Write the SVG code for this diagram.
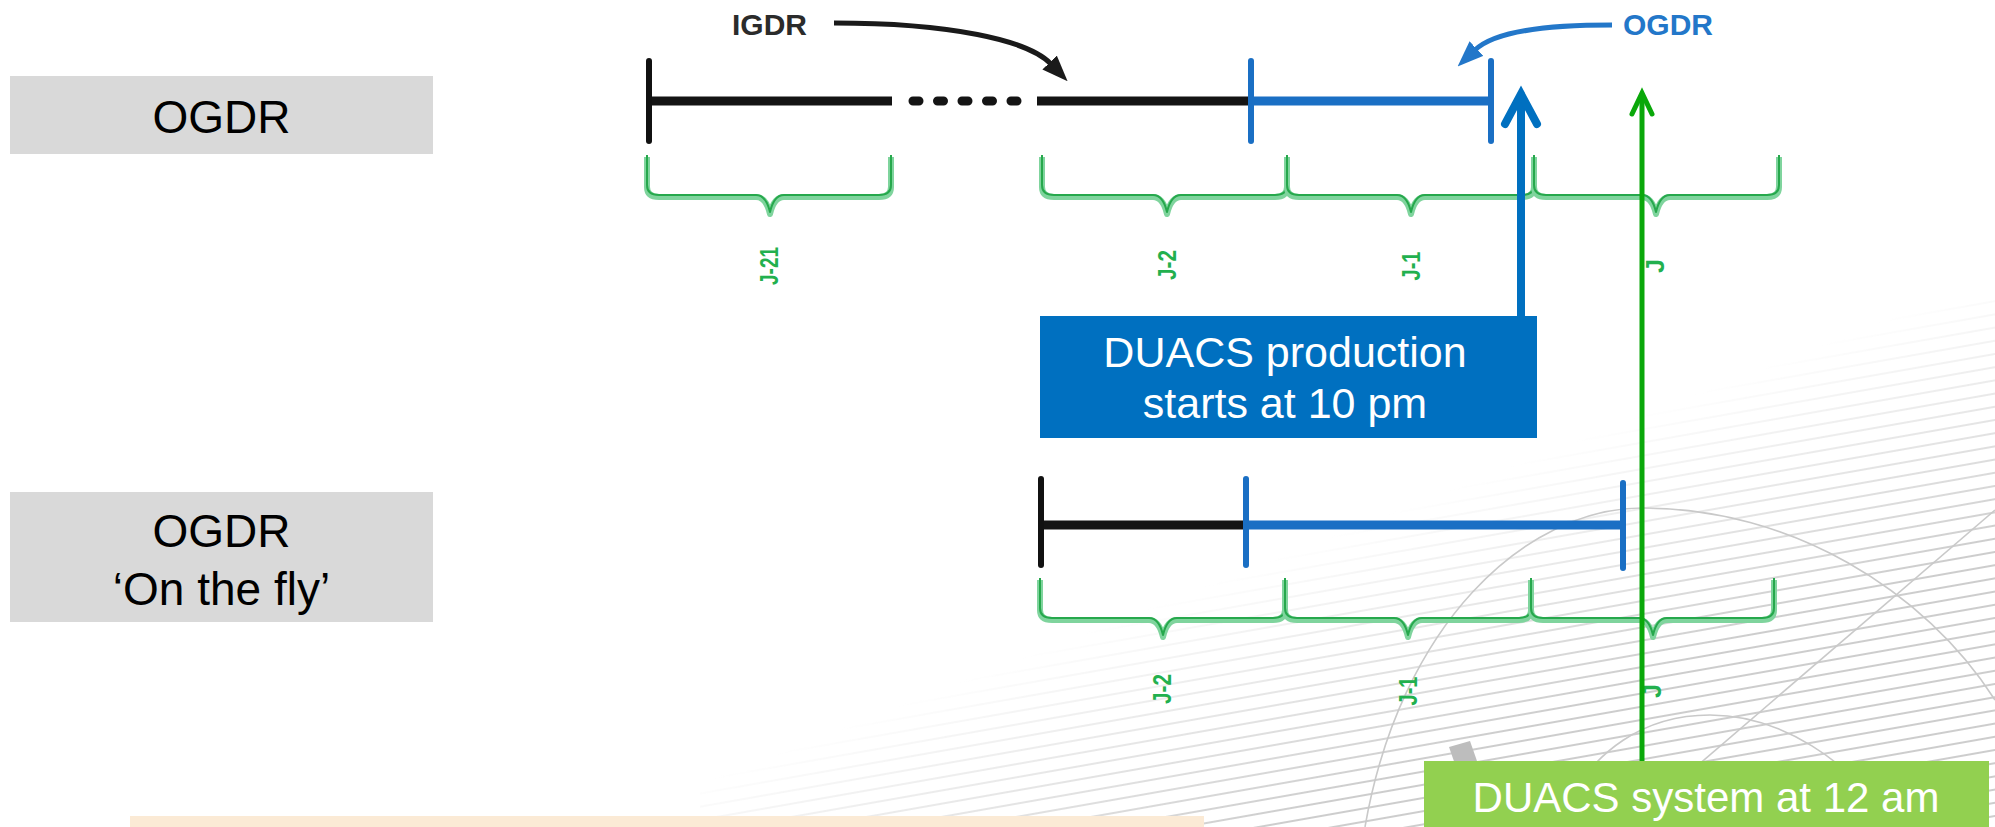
<svg xmlns="http://www.w3.org/2000/svg" width="1995" height="827" viewBox="0 0 1995 827">
<style>
.lbl{font-family:"Liberation Sans",Arial,sans-serif;font-size:46px;fill:#000;text-anchor:middle}
.wt{font-family:"Liberation Sans",Arial,sans-serif;fill:#fff;text-anchor:middle}
.jl{font-family:"Liberation Sans",Arial,sans-serif;font-weight:bold;font-size:25px;fill:#22b04e;text-anchor:middle}
.blk{stroke:#141414;stroke-width:9;fill:none}
.blu{stroke:#1a6fc4;stroke-width:9;fill:none}
.tk{stroke-width:6;stroke-linecap:round;fill:none}
.br1{fill:none;stroke:#7fd49d;stroke-width:6;stroke-linejoin:round}
.br2{fill:none;stroke:#26a84c;stroke-width:2;stroke-linejoin:round}
.hatch-arc{fill:none;stroke:#c9c9c9;stroke-width:1.6}
</style>
<defs>
<pattern id="hatch" patternUnits="userSpaceOnUse" width="600" height="13" patternTransform="rotate(-10)">
<line x1="0" y1="6" x2="600" y2="6" stroke="#cdcdcd" stroke-width="2.2"/>
</pattern>
<linearGradient id="fade" gradientUnits="userSpaceOnUse" x1="1385" y1="515" x2="1475" y2="745">
<stop offset="0" stop-color="#fff" stop-opacity="0"/>
<stop offset="1" stop-color="#fff" stop-opacity="1"/>
</linearGradient>
<mask id="fm" maskUnits="userSpaceOnUse" x="0" y="0" width="1995" height="827">
<rect x="0" y="0" width="1995" height="827" fill="url(#fade)"/>
</mask>
<marker id="ahk" markerUnits="userSpaceOnUse" markerWidth="26" markerHeight="20" refX="2" refY="10" orient="auto">
<path d="M0,0 L26,10 L0,20 z" fill="#1a1a1a"/>
</marker>
<marker id="ahb" markerUnits="userSpaceOnUse" markerWidth="26" markerHeight="20" refX="2" refY="10" orient="auto">
<path d="M0,0 L26,10 L0,20 z" fill="#2377c9"/>
</marker>
</defs>
<rect width="1995" height="827" fill="#fff"/>

<g id="background">
<rect x="700" y="300" width="1295" height="527" fill="url(#hatch)" mask="url(#fm)"/>
<path class="hatch-arc" d="M1365,827 C1400,625 1525,508 1643,508 C1790,508 1925,590 1995,700"/>
<path class="hatch-arc" d="M1555,827 C1590,745 1650,715 1710,715 C1780,715 1850,760 1895,827"/>
<line class="hatch-arc" x1="1995" y1="510" x2="1626" y2="827"/>
<polygon points="1449,747 1470,741 1477,761 1456,767" fill="#bdbdbd"/>
</g>

<g id="node-ogdr">
<rect x="10" y="76" width="423" height="78" fill="#d9d9d9"/>
<text class="lbl" x="221.5" y="133">OGDR</text>
</g>
<g id="node-ogdr-fly">
<rect x="10" y="492" width="423" height="130" fill="#d9d9d9"/>
<text class="lbl" x="221.5" y="547">OGDR</text>
<text class="lbl" x="221.5" y="605">‘On the fly’</text>
</g>

<g id="timeline-top">
<line class="blk" x1="649" y1="101" x2="892" y2="101"/>
<line class="blk" x1="913" y1="101" x2="1020" y2="101" stroke-dasharray="6 18.5" stroke-linecap="round"/>
<line class="blk" x1="1037" y1="101" x2="1250" y2="101"/>
<line class="blu" x1="1251" y1="101" x2="1491" y2="101"/>
<line class="tk" stroke="#111" x1="649" y1="61" x2="649" y2="141"/>
<line class="tk" stroke="#1a6fc4" x1="1251" y1="61" x2="1251" y2="141"/>
<line class="tk" stroke="#1a6fc4" x1="1491" y1="61" x2="1491" y2="141"/>
</g>

<g id="timeline-bottom">
<line class="blk" x1="1041" y1="525" x2="1246" y2="525"/>
<line class="blu" x1="1246" y1="525" x2="1623" y2="525"/>
<line class="tk" stroke="#111" x1="1041" y1="479" x2="1041" y2="565"/>
<line class="tk" stroke="#1a6fc4" x1="1246" y1="479" x2="1246" y2="565"/>
<line class="tk" stroke="#1a6fc4" x1="1623" y1="483" x2="1623" y2="568"/>
</g>

<g id="braces-top">
<path class="br1" d="M647,157 V187 Q647,197 659,197 H756 Q766,197 770,214 Q774,197 784,197 H879 Q891,197 891,187 V157"/>
<path class="br2" d="M647,155 V185 Q647,195 659,195 H756 Q766,195 770,212 Q774,195 784,195 H879 Q891,195 891,185 V155"/>
<path class="br1" d="M1042,157 V187 Q1042,197 1054,197 H1153 Q1163,197 1167,214 Q1171,197 1181,197 H1275 Q1287,197 1287,187 V157"/>
<path class="br2" d="M1042,155 V185 Q1042,195 1054,195 H1153 Q1163,195 1167,212 Q1171,195 1181,195 H1275 Q1287,195 1287,185 V155"/>
<path class="br1" d="M1287,157 V187 Q1287,197 1299,197 H1397 Q1407,197 1411,214 Q1415,197 1425,197 H1522 Q1534,197 1534,187 V157"/>
<path class="br2" d="M1287,155 V185 Q1287,195 1299,195 H1397 Q1407,195 1411,212 Q1415,195 1425,195 H1522 Q1534,195 1534,185 V155"/>
<path class="br1" d="M1534,157 V187 Q1534,197 1546,197 H1642 Q1652,197 1656,214 Q1660,197 1670,197 H1767 Q1779,197 1779,187 V157"/>
<path class="br2" d="M1534,155 V185 Q1534,195 1546,195 H1642 Q1652,195 1656,212 Q1660,195 1670,195 H1767 Q1779,195 1779,185 V155"/>
<text class="jl" transform="translate(769,266) rotate(-90)" y="9" textLength="38" lengthAdjust="spacingAndGlyphs">J-21</text>
<text class="jl" transform="translate(1167,265) rotate(-90)" y="9" textLength="30" lengthAdjust="spacingAndGlyphs">J-2</text>
<text class="jl" transform="translate(1411,266) rotate(-90)" y="9" textLength="29" lengthAdjust="spacingAndGlyphs">J-1</text>
<text class="jl" transform="translate(1655,266) rotate(-90)" y="9" textLength="14" lengthAdjust="spacingAndGlyphs">J</text>
</g>

<g id="braces-bottom">
<path class="br1" d="M1040,580 V610 Q1040,620 1052,620 H1149 Q1159,620 1163,637 Q1167,620 1177,620 H1273 Q1285,620 1285,610 V580"/>
<path class="br2" d="M1040,578 V608 Q1040,618 1052,618 H1149 Q1159,618 1163,635 Q1167,618 1177,618 H1273 Q1285,618 1285,608 V578"/>
<path class="br1" d="M1285,580 V610 Q1285,620 1297,620 H1394 Q1404,620 1408,637 Q1412,620 1422,620 H1519 Q1531,620 1531,610 V580"/>
<path class="br2" d="M1285,578 V608 Q1285,618 1297,618 H1394 Q1404,618 1408,635 Q1412,618 1422,618 H1519 Q1531,618 1531,608 V578"/>
<path class="br1" d="M1531,580 V610 Q1531,620 1543,620 H1639 Q1649,620 1653,637 Q1657,620 1667,620 H1762 Q1774,620 1774,610 V580"/>
<path class="br2" d="M1531,578 V608 Q1531,618 1543,618 H1639 Q1649,618 1653,635 Q1657,618 1667,618 H1762 Q1774,618 1774,608 V578"/>
<text class="jl" transform="translate(1162,689) rotate(-90)" y="9" textLength="30" lengthAdjust="spacingAndGlyphs">J-2</text>
<text class="jl" transform="translate(1408,691) rotate(-90)" y="9" textLength="29" lengthAdjust="spacingAndGlyphs">J-1</text>
<text class="jl" transform="translate(1652,691) rotate(-90)" y="9" textLength="14" lengthAdjust="spacingAndGlyphs">J</text>
</g>

<g id="node-igdr">
<text x="732" y="35" font-family="Liberation Sans, Arial, sans-serif" font-weight="bold" font-size="30" fill="#2b2b2b">IGDR</text>
</g>
<g id="node-ogdr-label">
<text x="1623" y="35" font-family="Liberation Sans, Arial, sans-serif" font-weight="bold" font-size="30" fill="#2377c9">OGDR</text>
</g>

<g id="node-duacs-prod">
<rect x="1040" y="316" width="497" height="122" fill="#0070c0"/>
<text class="wt" x="1285" y="367" font-size="43">DUACS production</text>
<text class="wt" x="1285" y="418" font-size="43">starts at 10 pm</text>
</g>

<g id="connectors">
<path d="M834,23 C950,23 1028,40 1051,64" fill="none" stroke="#1a1a1a" stroke-width="5" marker-end="url(#ahk)"/>
<path d="M1612,25 C1545,25 1495,31 1475,50" fill="none" stroke="#2377c9" stroke-width="5" marker-end="url(#ahb)"/>
<line x1="1521" y1="318" x2="1521" y2="96" stroke="#0070c0" stroke-width="8"/>
<path d="M1505,124 L1521,94 L1537,124" fill="none" stroke="#0070c0" stroke-width="8" stroke-linecap="round"/>
<line x1="1642" y1="762" x2="1642" y2="94" stroke="#0aa80a" stroke-width="5"/>
<path d="M1632,114 L1642,93 L1652,114" fill="none" stroke="#0aa80a" stroke-width="5" stroke-linecap="round"/>
</g>

<g id="node-duacs-sys">
<rect x="1424" y="761" width="565" height="70" fill="#92d050"/>
<text class="wt" x="1706" y="812" font-size="42">DUACS system at 12 am</text>
</g>

<g id="node-note">
<rect x="130" y="816" width="1074" height="15" fill="#fbead5"/>
</g>
</svg>
